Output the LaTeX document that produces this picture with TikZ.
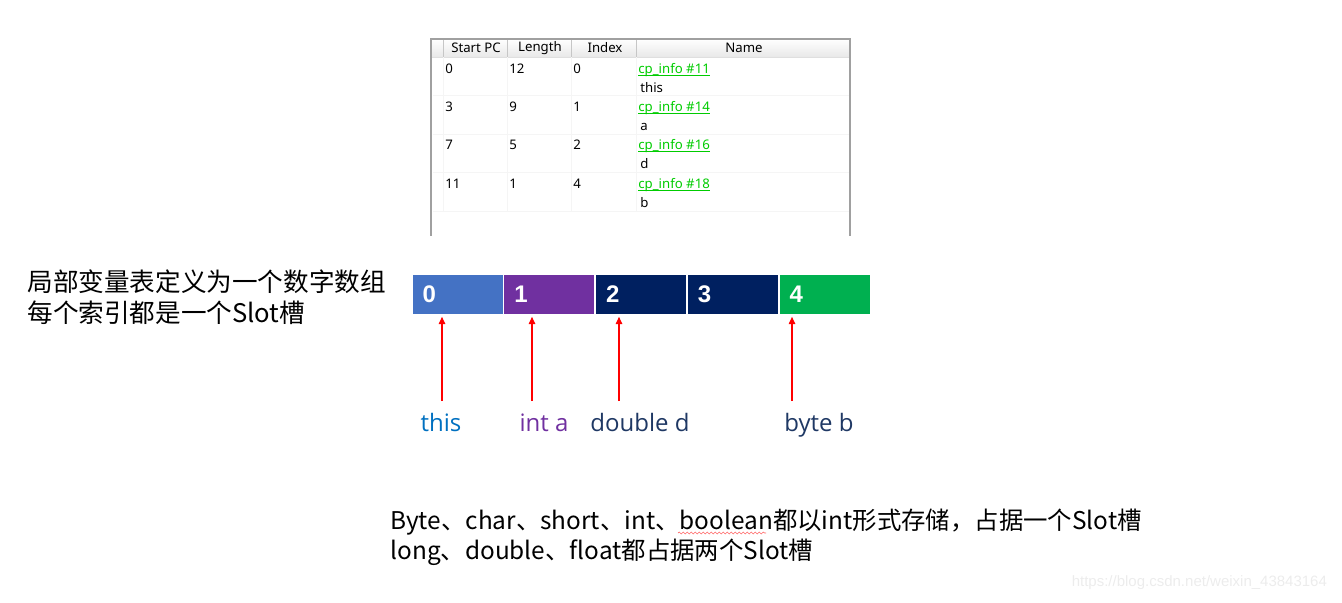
\documentclass[tikz,border=0pt]{standalone}
\usepackage{fontspec}
\usepackage{tikz}
\usetikzlibrary{positioning,arrows.meta,decorations.pathmorphing}
\setmainfont{Liberation Sans}
\newfontfamily\cjk{Noto Sans CJK SC}
\newfontfamily\ui{Noto Sans}
\newfontfamily\lbl{Open Sans}
\definecolor{slotblue}{HTML}{4472C4}
\definecolor{slotpurple}{HTML}{7030A0}
\definecolor{slotnavy}{HTML}{002060}
\definecolor{slotgreen}{HTML}{00B050}
\definecolor{thisblue}{HTML}{0070C0}
\definecolor{navytext}{HTML}{1F3864}
\definecolor{linkgreen}{HTML}{00CC00}
\definecolor{framegray}{HTML}{A0A0A0}

\begin{document}
\begin{tikzpicture}[x=0.5pt, y=-0.5pt,
  slot/.style={minimum width=45pt, minimum height=19.5pt, inner xsep=5pt,
               text width=35pt, align=left, text=white,
               font=\fontsize{12}{14}\selectfont\bfseries},
  ptr/.style={red, line width=0.6pt, -{Triangle[width=3.2pt,length=3.6pt]},
              shorten >=1.2pt},
  var/.style={font=\lbl\fontsize{12}{14}\selectfont, anchor=base},
  hdr/.style={font=\ui\fontsize{6.6}{8}\selectfont, inner sep=0pt},
  cell/.style={font=\ui\fontsize{6.6}{8}\selectfont, inner sep=0pt, anchor=base west},
  note/.style={font=\cjk\fontsize{12.2}{15}\selectfont, align=left, inner sep=0pt}
]
\useasboundingbox (0,0) rectangle (1342,602);

\fill[white] (431,39) rectangle (850,236);
\shade[top color=white, bottom color=gray!18] (431,39) rectangle (850,57);
\draw[gray!25] (431,57) -- (850,57);
\foreach \x in {443,507,571,636} {
  \draw[gray!45] (\x,40) -- (\x,57);
  \draw[gray!8] (\x,57) -- (\x,211);
}
\foreach \y in {95,134,172,211} \draw[gray!8] (433,\y) -- (850,\y);
\draw[framegray, line width=1pt] (431,236) -- (431,38.5) -- (850,38.5) -- (850,236);

\node[hdr] (hpc)   at (476,48) {Start PC};
\node[hdr] (hlen)  at (540,48) {Length};
\node[hdr] (hidx)  at (605,48) {Index};
\node[hdr] (hname) at (744,48) {Name};

\foreach \pc/\len/\idx/\cp/\nm [count=\r] in {0/12/0/11/this,3/9/1/14/a,7/5/2/16/d,11/1/4/18/b} {
  \pgfmathsetmacro\yb{73+38.4*(\r-1)}
  \node[cell] (pc\r)  at (445,\yb) {\pc};
  \node[cell] (len\r) at (509,\yb) {\len};
  \node[cell] (idx\r) at (573,\yb) {\idx};
  \node[cell, text=linkgreen] (cp\r) at (638,\yb) {cp\_info \#\cp};
  \draw[linkgreen, line width=0.45pt] ([yshift=-1pt]cp\r.base west) -- ([yshift=-1pt]cp\r.base east);
  \node[cell] (nm\r)  at (640,\yb+19) {\nm};
}

\node[slot, fill=slotblue] (s0) at (457.5,294.5) {0};
\node[slot, fill=slotpurple, right=0.5pt of s0] (s1) {1};
\node[slot, fill=slotnavy,   right=0.5pt of s1] (s2) {2};
\node[slot, fill=slotnavy,   right=0.5pt of s2] (s3) {3};
\node[slot, fill=slotgreen,  right=0.5pt of s3] (s4) {4};

\node[var, text=thisblue]   (v0) at (441,431) {this};
\node[var, text=slotpurple] (v1) at (544,431) {int a};
\node[var, text=navytext]   (v2) at (640,431) {double d};
\node[var, text=navytext]   (v4) at (819,431) {byte b};

\coordinate (p0) at (442,401);
\coordinate (p1) at (532,401);
\coordinate (p2) at (619,401);
\coordinate (p4) at (792,401);
\draw[ptr] (p0) -- (p0 |- s0.south);
\draw[ptr] (p1) -- (p1 |- s1.south);
\draw[ptr] (p2) -- (p2 |- s2.south);
\draw[ptr] (p4) -- (p4 |- s4.south);

\node[note, font=\cjk\fontsize{12.8}{15.5}\selectfont, anchor=west] (intro) at (27,297)
  {局部变量表定义为一个数字数组\\每个索引都是一个Slot槽};

\node[note, anchor=north west] (rule) at (390,509)
  {Byte、char、short、int、boolean都以int形式存储，占据一个Slot槽\\long、double、float都占据两个Slot槽};
\draw[red!60, line width=0.3pt, decorate,
      decoration={snake, amplitude=0.5pt, segment length=2pt}] (678,533) -- (766,533);

\node[font=\fontsize{7.5}{9}\selectfont, text=gray!15, anchor=east] (wm) at (1334,583)
  {https://blog.csdn.net/weixin\_43843164};
\end{tikzpicture}
\end{document}
